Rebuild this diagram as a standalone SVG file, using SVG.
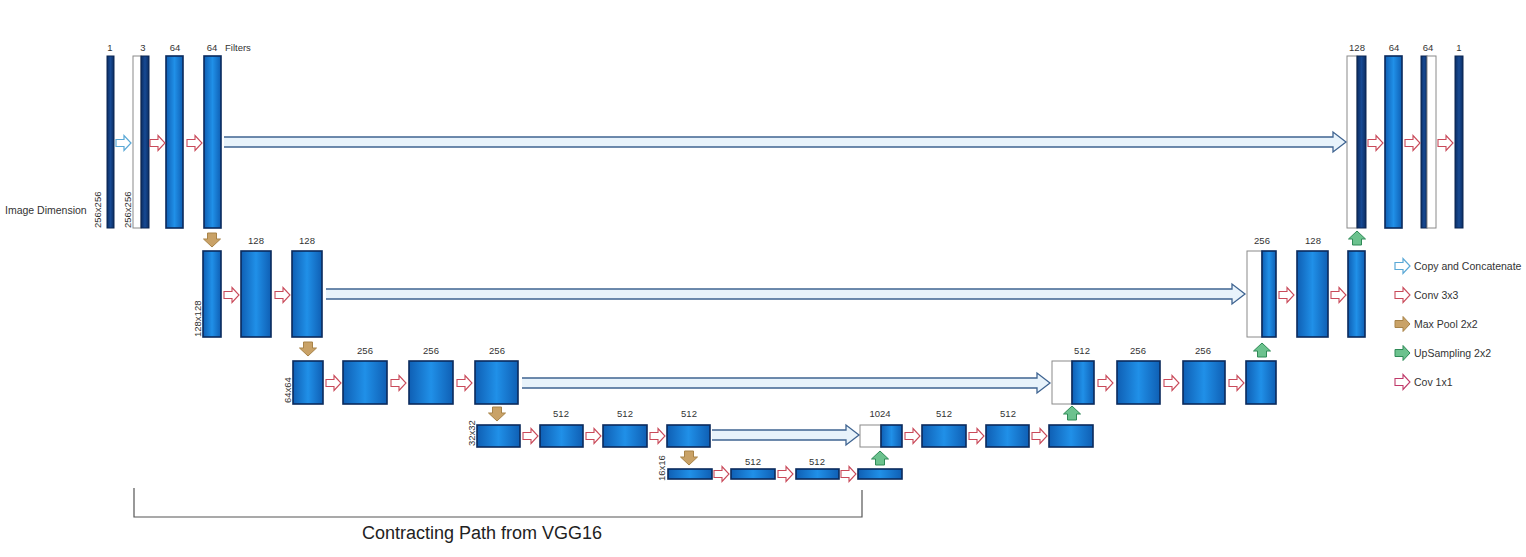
<svg xmlns="http://www.w3.org/2000/svg" xmlns:xlink="http://www.w3.org/1999/xlink" width="1526" height="557" viewBox="0 0 1526 557">
<style>
  .lbl{font-family:"Liberation Sans",Arial,sans-serif;font-size:9.5px;fill:#333;text-anchor:middle}
  .dim{font-family:"Liberation Sans",Arial,sans-serif;font-size:9.5px;fill:#333}
  .leg{font-family:"Liberation Sans",Arial,sans-serif;font-size:10.5px;fill:#333}
  .navy{fill:url(#navyG);stroke:#0a2550;stroke-width:1}
  .blue{fill:url(#blueG);stroke:#0a2a5c;stroke-width:1.6}
  .wht{fill:#fff;stroke:#8a8a8a;stroke-width:1}
  .conv{fill:#fff;stroke:#c94a5a;stroke-width:1.1}
  .copy{fill:#fff;stroke:#5aa8d6;stroke-width:1.2}
  .pool{fill:#c9a267;stroke:#a88348;stroke-width:1}
  .up{fill:#6cc28e;stroke:#2f8a57;stroke-width:1}
  .skip{fill:#e8f3fb;stroke:#3f6491;stroke-width:1.3}
  .brk{fill:none;stroke:#555;stroke-width:1.2}
</style>
<defs>
  <linearGradient id="navyG" x1="0" x2="1" y1="0" y2="0">
    <stop offset="0" stop-color="#0b2d62"/><stop offset="0.5" stop-color="#174a94"/><stop offset="1" stop-color="#0b2d62"/>
  </linearGradient>
  <linearGradient id="blueG" x1="0" x2="1" y1="0" y2="0">
    <stop offset="0" stop-color="#0f5fb4"/><stop offset="0.5" stop-color="#2090e8"/><stop offset="1" stop-color="#0f5fb4"/>
  </linearGradient>
  <path id="ra" d="M0,-3.5 L8,-3.5 L8,-7.5 L15,0 L8,7.5 L8,3.5 L0,3.5 Z"/>
  <path id="da" d="M-4.5,0 L4.5,0 L4.5,6 L8.5,6 L0,14 L-8.5,6 L-4.5,6 Z"/>
  <path id="ua" d="M-4.5,14 L4.5,14 L4.5,8 L8.5,8 L0,0 L-8.5,8 L-4.5,8 Z"/>
</defs>
<rect width="1526" height="557" fill="#fff"/>

<!-- Row 1 -->
<g id="n1"><rect class="navy" x="107" y="56" width="7" height="172"/><text class="lbl" x="110" y="51">1</text></g>
<g id="n2"><rect class="wht" x="133" y="56" width="8" height="172"/><rect class="navy" x="141" y="56" width="8" height="172"/><text class="lbl" x="143" y="51">3</text></g>
<g id="n3"><rect class="blue" x="166" y="56" width="17" height="172"/><text class="lbl" x="175" y="51">64</text></g>
<g id="n4"><rect class="blue" x="204" y="56" width="17" height="172"/><text class="lbl" x="212" y="51">64</text></g>
<g id="n5"><rect class="wht" x="1347" y="56" width="10" height="172"/><rect class="navy" x="1357" y="56" width="9" height="172"/><text class="lbl" x="1357" y="51">128</text></g>
<g id="n6"><rect class="blue" x="1385" y="56" width="17" height="172"/><text class="lbl" x="1394" y="51">64</text></g>
<g id="n7"><rect class="navy" x="1421" y="56" width="6" height="172"/><rect class="wht" x="1427" y="56" width="9" height="172"/><text class="lbl" x="1428" y="51">64</text></g>
<g id="n8"><rect class="navy" x="1455" y="56" width="8" height="172"/><text class="lbl" x="1459" y="51">1</text></g>

<!-- Row 2 -->
<g id="n9"><rect class="blue" x="203" y="251" width="18" height="86"/></g>
<g id="n10"><rect class="blue" x="241" y="251" width="30" height="86"/><text class="lbl" x="256" y="244">128</text></g>
<g id="n11"><rect class="blue" x="292" y="251" width="30" height="86"/><text class="lbl" x="307" y="244">128</text></g>
<g id="n12"><rect class="wht" x="1247" y="251" width="15" height="86"/><rect class="blue" x="1262" y="251" width="14" height="86"/><text class="lbl" x="1262" y="244">256</text></g>
<g id="n13"><rect class="blue" x="1297" y="251" width="31" height="86"/><text class="lbl" x="1313" y="244">128</text></g>
<g id="n14"><rect class="blue" x="1348" y="251" width="17" height="86"/></g>

<!-- Row 3 -->
<g id="n15"><rect class="blue" x="293" y="361" width="30" height="43"/></g>
<g id="n16"><rect class="blue" x="343" y="361" width="44" height="43"/><text class="lbl" x="365" y="354">256</text></g>
<g id="n17"><rect class="blue" x="409" y="361" width="44" height="43"/><text class="lbl" x="431" y="354">256</text></g>
<g id="n18"><rect class="blue" x="475" y="361" width="43" height="43"/><text class="lbl" x="497" y="354">256</text></g>
<g id="n19"><rect class="wht" x="1052" y="361" width="20" height="43"/><rect class="blue" x="1072" y="361" width="22" height="43"/><text class="lbl" x="1082" y="354">512</text></g>
<g id="n20"><rect class="blue" x="1117" y="361" width="43" height="43"/><text class="lbl" x="1138" y="354">256</text></g>
<g id="n21"><rect class="blue" x="1183" y="361" width="42" height="43"/><text class="lbl" x="1203" y="354">256</text></g>
<g id="n22"><rect class="blue" x="1246" y="361" width="30" height="43"/></g>

<!-- Row 4 -->
<g id="n23"><rect class="blue" x="477" y="425" width="43" height="22"/></g>
<g id="n24"><rect class="blue" x="540" y="425" width="43" height="22"/><text class="lbl" x="561" y="417">512</text></g>
<g id="n25"><rect class="blue" x="603" y="425" width="44" height="22"/><text class="lbl" x="625" y="417">512</text></g>
<g id="n26"><rect class="blue" x="667" y="425" width="43" height="22"/><text class="lbl" x="689" y="417">512</text></g>
<g id="n27"><rect class="wht" x="860" y="425" width="21" height="22"/><rect class="blue" x="881" y="425" width="21" height="22"/><text class="lbl" x="880" y="417">1024</text></g>
<g id="n28"><rect class="blue" x="922" y="425" width="44" height="22"/><text class="lbl" x="944" y="417">512</text></g>
<g id="n29"><rect class="blue" x="986" y="425" width="43" height="22"/><text class="lbl" x="1008" y="417">512</text></g>
<g id="n30"><rect class="blue" x="1049" y="425" width="44" height="22"/></g>

<!-- Row 5 -->
<g id="n31"><rect class="blue" x="668" y="469" width="44" height="10"/></g>
<g id="n32"><rect class="blue" x="731" y="469" width="44" height="10"/><text class="lbl" x="753" y="465">512</text></g>
<g id="n33"><rect class="blue" x="796" y="469" width="43" height="10"/><text class="lbl" x="817" y="465">512</text></g>
<g id="n34"><rect class="blue" x="858" y="469" width="44" height="10"/></g>

<!-- Annotations -->
<g id="annotations">
  <text class="lbl" x="225" y="51" style="text-anchor:start">Filters</text>
  <text class="dim" x="5" y="214" style="font-size:10.5px">Image Dimension</text>
  <text class="dim" transform="translate(101,228) rotate(-90)">256x256</text>
  <text class="dim" transform="translate(131,228) rotate(-90)">256x256</text>
  <text class="dim" transform="translate(201,337) rotate(-90)">128x128</text>
  <text class="dim" transform="translate(291,403) rotate(-90)">64x64</text>
  <text class="dim" transform="translate(475,446) rotate(-90)">32x32</text>
  <text class="dim" transform="translate(665,481) rotate(-90)">16x16</text>
  <path class="brk" d="M134,488 V517 H862 V490"/>
  <text x="482" y="539" style="font-family:'Liberation Sans',Arial,sans-serif;font-size:18px;fill:#222;text-anchor:middle">Contracting Path from VGG16</text>
</g>

<!-- Connectors -->
<g id="connectors">
  <!-- skip connections -->
  <path class="skip" d="M224,137 L1333,137 L1333,132 L1346,142 L1333,152 L1333,147 L224,147"/>
  <path class="skip" d="M326,289 L1232,289 L1232,284 L1245,294 L1232,304 L1232,299 L326,299"/>
  <path class="skip" d="M522,378 L1037,378 L1037,373 L1050,383 L1037,393 L1037,388 L522,388"/>
  <path class="skip" d="M712,430 L846,430 L846,425 L859,435 L846,445 L846,440 L712,440"/>
  <!-- row 1 -->
  <use href="#ra" class="copy" x="116" y="143"/>
  <use href="#ra" class="conv" x="150" y="143"/>
  <use href="#ra" class="conv" x="187" y="143"/>
  <use href="#ra" class="conv" x="1368" y="143"/>
  <use href="#ra" class="conv" x="1405" y="143"/>
  <use href="#ra" class="conv" x="1438" y="143"/>
  <!-- row 2 -->
  <use href="#ra" class="conv" x="224" y="295"/>
  <use href="#ra" class="conv" x="275" y="295"/>
  <use href="#ra" class="conv" x="1279" y="295"/>
  <use href="#ra" class="conv" x="1331" y="295"/>
  <!-- row 3 -->
  <use href="#ra" class="conv" x="326" y="383"/>
  <use href="#ra" class="conv" x="391" y="383"/>
  <use href="#ra" class="conv" x="457" y="383"/>
  <use href="#ra" class="conv" x="1098" y="383"/>
  <use href="#ra" class="conv" x="1164" y="383"/>
  <use href="#ra" class="conv" x="1229" y="383"/>
  <!-- row 4 -->
  <use href="#ra" class="conv" x="523" y="436"/>
  <use href="#ra" class="conv" x="586" y="436"/>
  <use href="#ra" class="conv" x="650" y="436"/>
  <use href="#ra" class="conv" x="905" y="436"/>
  <use href="#ra" class="conv" x="969" y="436"/>
  <use href="#ra" class="conv" x="1032" y="436"/>
  <!-- row 5 -->
  <use href="#ra" class="conv" x="714" y="474"/>
  <use href="#ra" class="conv" x="778" y="474"/>
  <use href="#ra" class="conv" x="841" y="474"/>
  <!-- max pool -->
  <use href="#da" class="pool" x="212" y="233"/>
  <use href="#da" class="pool" x="308" y="342"/>
  <use href="#da" class="pool" x="497" y="407"/>
  <use href="#da" class="pool" x="689" y="451"/>
  <!-- upsampling -->
  <use href="#ua" class="up" x="880" y="451"/>
  <use href="#ua" class="up" x="1072" y="406"/>
  <use href="#ua" class="up" x="1262" y="343"/>
  <use href="#ua" class="up" x="1357" y="231"/>
</g>

<!-- Legend -->
<g id="legend">
  <use href="#ra" class="copy" x="1395" y="266"/>
  <text class="leg" x="1414" y="270">Copy and Concatenate</text>
  <use href="#ra" class="conv" x="1395" y="295"/>
  <text class="leg" x="1414" y="299">Conv 3x3</text>
  <use href="#ra" class="pool" x="1395" y="324"/>
  <text class="leg" x="1414" y="328">Max Pool 2x2</text>
  <use href="#ra" class="up" x="1395" y="353"/>
  <text class="leg" x="1414" y="357">UpSampling 2x2</text>
  <use href="#ra" class="conv" x="1395" y="382" style="stroke:#c03a6a"/>
  <text class="leg" x="1414" y="386">Cov 1x1</text>
</g>
</svg>
